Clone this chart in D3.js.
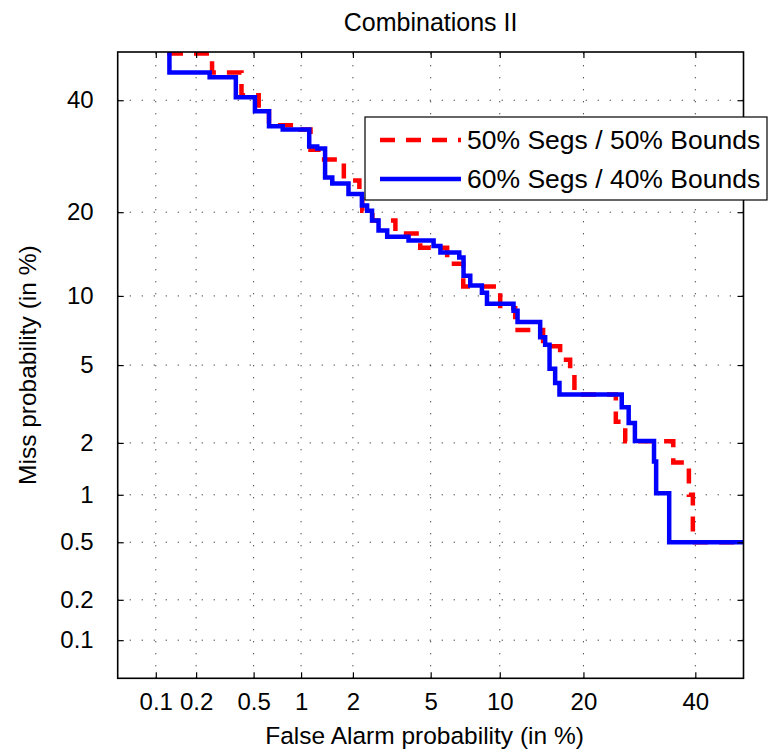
<!DOCTYPE html>
<html><head><meta charset="utf-8">
<script src="https://cdn.jsdelivr.net/npm/d3@7"></script>
<style>
body{margin:0;background:#fff}
text{font-family:"Liberation Sans",Arial,Helvetica,sans-serif;fill:#000}
</style>
</head><body>
<svg id="chart" width="769" height="754"></svg>
<script>
// ---------- data ----------
const title = "Combinations II";
const xLabel = "False Alarm probability (in %)";
const yLabel = "Miss probability (in %)";
const tickValues = [0.1, 0.2, 0.5, 1, 2, 5, 10, 20, 40];
const tickLabels = ["0.1", "0.2", "0.5", "1", "2", "5", "10", "20", "40"];
const axisLimits = [0.05, 50];
const seriesNames = ["50% Segs / 50% Bounds", "60% Segs / 40% Bounds"];

// 50% Segs / 50% Bounds (red dashed) step vertices, in %
const redFA   = [0.127, 0.26, 0.415, 0.54, 0.63, 0.99, 1.14, 1.27, 1.78, 2.17, 2.25, 2.55, 3.36, 4.46, 5.96, 7.03, 10.04, 11.5, 14.6, 16.75, 18.1, 18.7, 25.1, 26.7, 35.6, 38.7, 39.5, 50];
const redMiss = [50, 49.7, 45.7, 41.0, 37.8, 35.0, 34.2, 30.4, 28.6, 25.0, 22.9, 20.2, 18.8, 17.0, 15.2, 13.3, 10.9, 8.9, 7.2, 6.1, 5.3, 4.8, 3.6, 2.6, 2.04, 1.55, 1.0, 0.5];

// 60% Segs / 40% Bounds (blue solid) step vertices, in %
const blueFA   = [0.127, 0.25, 0.38, 0.51, 0.63, 0.77, 1.12, 1.25, 1.39, 1.53, 1.89, 2.24, 2.39, 2.54, 2.75, 3.05, 3.91, 5.16, 5.55, 6.75, 7.05, 7.54, 8.45, 8.87, 11.33, 11.74, 14.25, 14.85, 15.39, 16.1, 16.66, 26.1, 27.3, 28.4, 31.9, 32.3, 34.8, 50];
const blueMiss = [50, 45.7, 44.7, 40.6, 37.8, 34.8, 34.2, 31.0, 30.6, 25.5, 24.5, 22.8, 21.0, 20.2, 18.8, 17.4, 16.6, 16.1, 15.4, 14.6, 14.0, 12.0, 11.0, 10.3, 9.3, 8.7, 7.8, 6.7, 6.2, 4.8, 4.1, 3.6, 3.1, 2.56, 2.05, 1.57, 1.02, 0.5];

// ---------- helpers ----------
function probit(p){
  const a=[-3.969683028665376e+01,2.209460984245205e+02,-2.759285104469687e+02,1.383577518672690e+02,-3.066479806614716e+01,2.506628277459239e+00];
  const b=[-5.447609879822406e+01,1.615858368580409e+02,-1.556989798598866e+02,6.680131188771972e+01,-1.328068155288572e+01];
  const c=[-7.784894002430293e-03,-3.223964580411365e-01,-2.400758277161838e+00,-2.549732539343734e+00,4.374664141464968e+00,2.938163982698783e+00];
  const d=[7.784695709041462e-03,3.224671290700398e-01,2.445134137142996e+00,3.754408661907416e+00];
  const pl=0.02425, ph=1-pl; let q,r;
  if(p<pl){q=Math.sqrt(-2*Math.log(p));return (((((c[0]*q+c[1])*q+c[2])*q+c[3])*q+c[4])*q+c[5])/((((d[0]*q+d[1])*q+d[2])*q+d[3])*q+1);}
  if(p<=ph){q=p-0.5;r=q*q;return (((((a[0]*r+a[1])*r+a[2])*r+a[3])*r+a[4])*r+a[5])*q/(((((b[0]*r+b[1])*r+b[2])*r+b[3])*r+b[4])*r+1);}
  q=Math.sqrt(-2*Math.log(1-p));return -(((((c[0]*q+c[1])*q+c[2])*q+c[3])*q+c[4])*q+c[5])/((((d[0]*q+d[1])*q+d[2])*q+d[3])*q+1);
}
const pr = v => probit(v / 100);

// ---------- layout ----------
const L = 117.7, R = 743.5, T = 52, B = 678.3;
const FS = 24;
const svg = d3.select("#chart");
const x = d3.scaleLinear().domain([pr(axisLimits[0]), pr(axisLimits[1])]).range([L, R]);
const y = d3.scaleLinear().domain([pr(axisLimits[0]), pr(axisLimits[1])]).range([B, T]);
const tickPos = tickValues.map(pr);
const fmt = (d, i) => tickLabels[i];

// grid
const grid = svg.append("g").attr("stroke", "#333").attr("stroke-width", 1).attr("stroke-dasharray", "1.2,10.8");
tickPos.forEach(t => {
  grid.append("line").attr("x1", x(t)).attr("x2", x(t)).attr("y1", B).attr("y2", T);
  grid.append("line").attr("x1", L).attr("x2", R).attr("y1", y(t)).attr("y2", y(t));
});

// clip
svg.append("clipPath").attr("id", "clip").append("rect")
  .attr("x", L).attr("y", T).attr("width", R - L).attr("height", B - T);

const line = d3.line()
  .x(d => x(pr(d[0]))).y(d => y(pr(d[1])))
  .curve(d3.curveStepBefore);

const redData = redFA.map((v, i) => [v, redMiss[i]]);
const blueData = blueFA.map((v, i) => [v, blueMiss[i]]);

const plot = svg.append("g").attr("clip-path", "url(#clip)");
plot.append("path").attr("d", line(redData)).attr("fill", "none")
  .attr("stroke", "#ff0000").attr("stroke-width", 4.5).attr("stroke-dasharray", "15,11");
plot.append("path").attr("d", line(blueData)).attr("fill", "none")
  .attr("stroke", "#0000ff").attr("stroke-width", 4.5);

// axes
function styleAxis(g){ g.select(".domain").remove(); g.selectAll("line").attr("stroke", "#000").attr("stroke-width", 1.2); g.selectAll("text").attr("font-size", FS).attr("font-family", "Liberation Sans, Arial, sans-serif"); }
svg.append("g").attr("transform", `translate(0,${B})`)
  .call(d3.axisBottom(x).tickValues(tickPos).tickFormat(fmt).tickSizeInner(-6).tickSizeOuter(0).tickPadding(15)).call(styleAxis);
svg.append("g").attr("transform", `translate(0,${T})`)
  .call(d3.axisTop(x).tickValues(tickPos).tickFormat("").tickSizeInner(-6).tickSizeOuter(0)).call(styleAxis);
svg.append("g").attr("transform", `translate(${L},0)`)
  .call(d3.axisLeft(y).tickValues(tickPos).tickFormat(fmt).tickSizeInner(-6).tickSizeOuter(0).tickPadding(24)).call(styleAxis);
svg.append("g").attr("transform", `translate(${R},0)`)
  .call(d3.axisRight(y).tickValues(tickPos).tickFormat("").tickSizeInner(-6).tickSizeOuter(0)).call(styleAxis);

svg.append("rect").attr("x", L).attr("y", T).attr("width", R - L).attr("height", B - T)
  .attr("fill", "none").attr("stroke", "#000").attr("stroke-width", 1.6);

// labels
svg.append("text").attr("x", (L + R) / 2).attr("y", 31).attr("text-anchor", "middle").attr("font-size", 25).text(title);
svg.append("text").attr("x", (L + R) / 2 - 6).attr("y", 744).attr("text-anchor", "middle").attr("font-size", 24.5).text(xLabel);
svg.append("text").attr("transform", `translate(36,${(T + B) / 2}) rotate(-90)`).attr("text-anchor", "middle").attr("font-size", 24.5).text(yLabel);

// legend
const lg = svg.append("g");
lg.append("rect").attr("x", 365).attr("y", 117).attr("width", 402).attr("height", 83)
  .attr("fill", "#fff").attr("stroke", "#000").attr("stroke-width", 1.2);
const legY = [140, 179];
const legStyles = [{c: "#ff0000", dash: "15,11"}, {c: "#0000ff", dash: null}];
seriesNames.forEach((n, i) => {
  lg.append("line").attr("x1", 380).attr("x2", 461).attr("y1", legY[i]).attr("y2", legY[i])
    .attr("stroke", legStyles[i].c).attr("stroke-width", 4.5).attr("stroke-dasharray", legStyles[i].dash);
  lg.append("text").attr("x", 467).attr("y", legY[i] + 9).attr("font-size", 26.5).text(n);
});
</script>
</body></html>
